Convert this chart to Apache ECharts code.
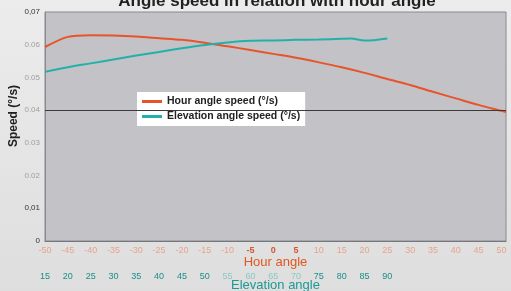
<!DOCTYPE html>
<html>
<head>
<meta charset="utf-8">
<script src="https://cdn.jsdelivr.net/npm/echarts@6/dist/echarts.min.js"></script>
<style>
  html, body { margin: 0; padding: 0; }
  #main { width: 511px; height: 291px; background: linear-gradient(180deg, #ececec, #dedede); }
</style>
</head>
<body>
<div id="main"></div>
<script>
// hour angle (deg) and the matching speeds
var hourAngles = [-50, -45, -40, -35, -30, -25, -20, -15, -10, -5, 0, 5, 10, 15, 20, 25, 30, 35, 40, 45, 50, 51];
var hourSpeed = [0.0593, 0.0624, 0.0629, 0.0628, 0.0625, 0.0620, 0.0615, 0.0606, 0.0595, 0.0584, 0.0572, 0.0560, 0.0546, 0.0531, 0.0514, 0.0495, 0.0477, 0.0456, 0.0436, 0.0416, 0.0398, 0.0394];

var elevHourAngles = [-50, -45, -40, -35, -30, -25, -20, -15, -10, -5, 0, 5, 10, 15, 17, 20, 22, 25];
var elevSpeed = [0.0517, 0.0531, 0.0543, 0.0555, 0.0567, 0.0578, 0.0589, 0.0599, 0.0607, 0.0612, 0.0613, 0.0615, 0.0616, 0.0618, 0.0619, 0.0613, 0.0614, 0.0619];

var darkHourLabels = [-5, 0, 5];
var lightElevLabels = [55, 60, 65, 70];
var darkSpeedLabels = [0.07, 0.01];

var chart = echarts.init(document.getElementById('main'));

function pair(xs, ys) {
  var out = [];
  for (var i = 0; i < xs.length; i++) out.push([xs[i], ys[i]]);
  return out;
}

var option = {
  backgroundColor: 'transparent',
  textStyle: { fontFamily: 'Liberation Sans, Arial, sans-serif' },
  title: {
    text: 'Angle speed in relation with hour angle',
    left: 272,
    textAlign: 'center',
    top: -12,
    textStyle: { fontSize: 17, fontWeight: 'bold', color: '#222' }
  },
  grid: {
    left: 45, right: 5, top: 12, bottom: 50,
    outerBoundsMode: 'none',
    containLabel: false,
    show: true,
    backgroundColor: '#c3c2c7',
    borderColor: '#8a8a8e',
    borderWidth: 1
  },
  legend: {
    left: 137, top: 92,
    orient: 'vertical',
    backgroundColor: '#ffffff',
    padding: [4, 5, 4, 5],
    itemGap: 4,
    itemWidth: 20,
    itemHeight: 3,
    icon: 'rect',
    textStyle: { fontSize: 10.5, fontWeight: 'bold', color: '#222' },
    data: ['Hour angle speed (°/s)', 'Elevation angle speed (°/s)']
  },
  xAxis: [{
    type: 'value',
    min: -50, max: 51, interval: 5,
    position: 'bottom',
    axisLine: { show: true, onZero: false, lineStyle: { color: '#77777b' } },
    axisTick: { show: false },
    splitLine: { show: false },
    axisLabel: {
      showMaxLabel: false,
      margin: 5,
      formatter: function (v) {
        return darkHourLabels.indexOf(v) >= 0 ? '{d|' + v + '}' : '{l|' + v + '}';
      },
      rich: {
        l: { color: '#e7a48c', fontSize: 9 },
        d: { color: '#d4552a', fontSize: 9, fontWeight: 'bold' }
      }
    },
    name: 'Hour angle',
    nameLocation: 'middle',
    nameMoveOverlap: false,
    nameGap: 15,
    nameTextStyle: { color: '#e0571f', fontSize: 13 }
  }, {
    type: 'value',
    min: 15, max: 116, interval: 5,
    position: 'bottom',
    offset: 26,
    axisLine: { show: false, onZero: false },
    axisTick: { show: false },
    splitLine: { show: false },
    axisLabel: {
      margin: 5,
      formatter: function (v) {
        if (v > 90) return '';
        return lightElevLabels.indexOf(v) >= 0 ? '{l|' + v + '}' : '{d|' + v + '}';
      },
      rich: {
        l: { color: '#8dc7c3', fontSize: 9 },
        d: { color: '#1b8e88', fontSize: 9 }
      }
    },
    name: 'Elevation angle',
    nameLocation: 'middle',
    nameMoveOverlap: false,
    nameGap: 12,
    nameTextStyle: { color: '#1b9a93', fontSize: 13 }
  }],
  yAxis: {
    type: 'value',
    min: 0, max: 0.07, interval: 0.01,
    axisLine: { show: true, onZero: false, lineStyle: { color: '#8a8a8e' } },
    axisTick: { show: false },
    splitLine: { show: false },
    axisLabel: {
      margin: 5,
      formatter: function (v) {
        var n = Math.round(v * 100);
        if (n === 0) return '{d|0}';
        if (darkSpeedLabels.indexOf(n / 100) >= 0) return '{d|0,0' + n + '}';
        return '{l|0.0' + n + '}';
      },
      rich: {
        l: { color: '#a0a0a0', fontSize: 8 },
        d: { color: '#333', fontSize: 8 }
      }
    }
  },
  graphic: [{
    type: 'text',
    x: 14, y: 116,
    rotation: Math.PI / 2,
    style: {
      text: 'Speed (°/s)',
      fill: '#222',
      font: 'bold 12px Liberation Sans, Arial, sans-serif',
      align: 'center',
      verticalAlign: 'middle'
    }
  }],
  series: [{
    name: 'Hour angle speed (°/s)',
    type: 'line',
    xAxisIndex: 0,
    smooth: 0.3,
    showSymbol: false,
    color: '#e8542a',
    lineStyle: { width: 2, color: '#e8542a' },
    data: pair(hourAngles, hourSpeed),
    markLine: {
      silent: true,
      symbol: 'none',
      label: { show: false },
      lineStyle: { color: '#3a3a3a', width: 1, type: 'solid' },
      data: [{ yAxis: 0.04 }]
    },
    z: 3
  }, {
    name: 'Elevation angle speed (°/s)',
    type: 'line',
    xAxisIndex: 0,
    smooth: 0.3,
    showSymbol: false,
    color: '#22b1a9',
    lineStyle: { width: 2, color: '#22b1a9' },
    data: pair(elevHourAngles, elevSpeed),
    z: 3
  }]
};

chart.setOption(option);
</script>
</body>
</html>
